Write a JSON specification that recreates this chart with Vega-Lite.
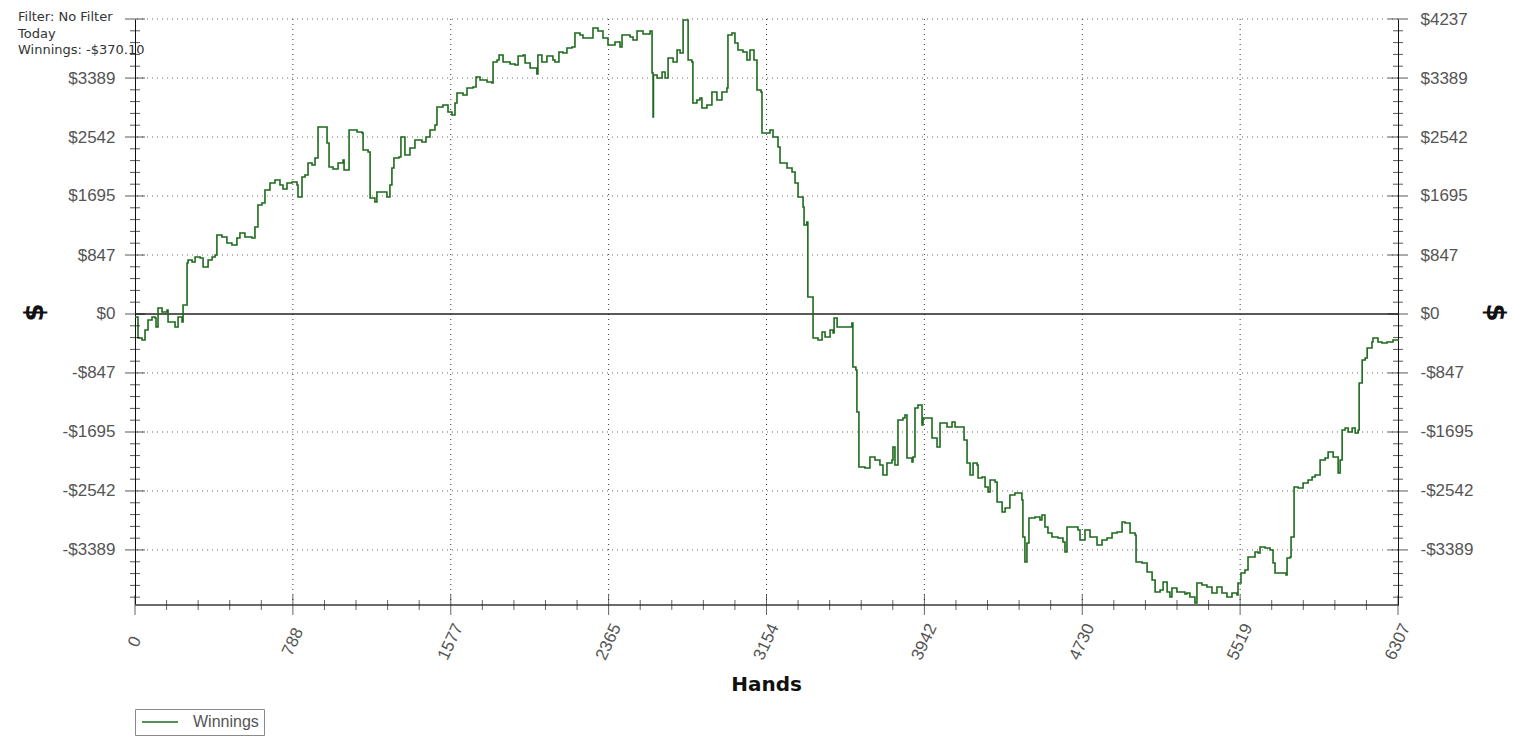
{
  "$schema": "https://vega.github.io/schema/vega-lite/v6.json",
  "width": 1263,
  "height": 586,
  "autosize": {"type": "none"},
  "padding": {"left": 135, "top": 19, "right": 134, "bottom": 147},
  "background": "white",
  "title": {
    "text": ["Filter: No Filter", "Today", "Winnings: -$370.10"],
    "anchor": "start",
    "frame": "group",
    "orient": "top",
    "font": "DejaVu Sans",
    "fontSize": 13,
    "fontWeight": "normal",
    "color": "#333333",
    "lineHeight": 16.5,
    "offset": 0,
    "dx": -117,
    "dy": 47
  },
  "datasets": {
    "win": [
      {"h":0,"w":-43},{"h":15,"w":-345},{"h":35,"w":-373},{"h":50,"w":-230},{"h":65,"w":-86},{"h":85,"w":-43},{"h":100,"w":-57},{"h":105,"w":-187},{"h":115,"w":86},{"h":135,"w":29},{"h":160,"w":57},{"h":165,"w":-115},{"h":200,"w":-187},{"h":215,"w":-43},{"h":235,"w":-115},{"h":240,"w":129},{"h":260,"w":733},{"h":265,"w":776},{"h":285,"w":747},{"h":300,"w":819},{"h":325,"w":804},{"h":340,"w":675},{"h":365,"w":776},{"h":385,"w":819},{"h":400,"w":847},{"h":409,"w":1135},{"h":434,"w":1106},{"h":459,"w":1020},{"h":484,"w":991},{"h":509,"w":1092},{"h":524,"w":1163},{"h":549,"w":1106},{"h":584,"w":1092},{"h":599,"w":1250},{"h":614,"w":1566},{"h":634,"w":1594},{"h":649,"w":1781},{"h":674,"w":1882},{"h":699,"w":1925},{"h":724,"w":1853},{"h":739,"w":1795},{"h":759,"w":1882},{"h":784,"w":1896},{"h":809,"w":1853},{"h":814,"w":1680},{"h":834,"w":1968},{"h":849,"w":1996},{"h":864,"w":2169},{"h":884,"w":2140},{"h":899,"w":2241},{"h":914,"w":2686},{"h":949,"w":2686},{"h":959,"w":2456},{"h":969,"w":2111},{"h":989,"w":2083},{"h":1014,"w":2169},{"h":1039,"w":2212},{"h":1044,"w":2068},{"h":1064,"w":2068},{"h":1069,"w":2643},{"h":1109,"w":2614},{"h":1134,"w":2600},{"h":1139,"w":2356},{"h":1164,"w":2327},{"h":1174,"w":1666},{"h":1198,"w":1609},{"h":1208,"w":1752},{"h":1258,"w":1680},{"h":1273,"w":1853},{"h":1283,"w":2097},{"h":1293,"w":2241},{"h":1318,"w":2255},{"h":1328,"w":2542},{"h":1343,"w":2542},{"h":1348,"w":2284},{"h":1373,"w":2384},{"h":1398,"w":2499},{"h":1433,"w":2470},{"h":1453,"w":2542},{"h":1473,"w":2643},{"h":1498,"w":2715},{"h":1508,"w":2973},{"h":1538,"w":3002},{"h":1563,"w":2901},{"h":1583,"w":2858},{"h":1598,"w":3031},{"h":1608,"w":3174},{"h":1638,"w":3145},{"h":1658,"w":3246},{"h":1688,"w":3260},{"h":1703,"w":3404},{"h":1723,"w":3361},{"h":1758,"w":3332},{"h":1783,"w":3318},{"h":1788,"w":3619},{"h":1808,"w":3648},{"h":1818,"w":3720},{"h":1838,"w":3619},{"h":1873,"w":3591},{"h":1898,"w":3576},{"h":1913,"w":3706},{"h":1938,"w":3720},{"h":1948,"w":3605},{"h":1973,"w":3533},{"h":2007,"w":3447},{"h":2012,"w":3720},{"h":2032,"w":3619},{"h":2057,"w":3706},{"h":2087,"w":3648},{"h":2097,"w":3619},{"h":2117,"w":3763},{"h":2137,"w":3749},{"h":2157,"w":3821},{"h":2182,"w":3835},{"h":2197,"w":4036},{"h":2222,"w":4007},{"h":2237,"w":3964},{"h":2262,"w":3964},{"h":2287,"w":4108},{"h":2312,"w":4065},{"h":2337,"w":3964},{"h":2362,"w":3864},{"h":2397,"w":3907},{"h":2422,"w":3835},{"h":2432,"w":4007},{"h":2472,"w":3979},{"h":2487,"w":3935},{"h":2507,"w":4065},{"h":2537,"w":4022},{"h":2572,"w":4065},{"h":2582,"w":3461},{"h":2587,"w":2829},{"h":2589,"w":3433},{"h":2607,"w":3390},{"h":2632,"w":3476},{"h":2647,"w":3390},{"h":2662,"w":3677},{"h":2687,"w":3619},{"h":2707,"w":3792},{"h":2722,"w":3749},{"h":2737,"w":4223},{"h":2757,"w":4223},{"h":2762,"w":3648},{"h":2781,"w":3619},{"h":2786,"w":3031},{"h":2806,"w":3074},{"h":2821,"w":3102},{"h":2831,"w":2959},{"h":2856,"w":3002},{"h":2881,"w":3189},{"h":2906,"w":3074},{"h":2931,"w":3189},{"h":2956,"w":3246},{"h":2961,"w":4007},{"h":2981,"w":4036},{"h":2996,"w":3892},{"h":3011,"w":3792},{"h":3036,"w":3763},{"h":3056,"w":3648},{"h":3071,"w":3792},{"h":3091,"w":3648},{"h":3106,"w":3217},{"h":3126,"w":3189},{"h":3131,"w":2600},{"h":3136,"w":2600},{"h":3171,"w":2643},{"h":3186,"w":2542},{"h":3211,"w":2399},{"h":3221,"w":2169},{"h":3256,"w":2097},{"h":3281,"w":2040},{"h":3296,"w":1882},{"h":3311,"w":1680},{"h":3336,"w":1537},{"h":3341,"w":1278},{"h":3355,"w":1321},{"h":3360,"w":244},{"h":3381,"w":244},{"h":3386,"w":-345},{"h":3411,"w":-373},{"h":3431,"w":-259},{"h":3446,"w":-330},{"h":3471,"w":-230},{"h":3486,"w":-273},{"h":3491,"w":-57},{"h":3506,"w":-187},{"h":3546,"w":-187},{"h":3580,"w":-129},{"h":3585,"w":-761},{"h":3600,"w":-804},{"h":3605,"w":-1408},{"h":3615,"w":-2198},{"h":3645,"w":-2212},{"h":3670,"w":-2054},{"h":3695,"w":-2097},{"h":3720,"w":-2169},{"h":3735,"w":-2312},{"h":3755,"w":-2140},{"h":3780,"w":-2097},{"h":3785,"w":-1910},{"h":3795,"w":-2169},{"h":3810,"w":-1522},{"h":3835,"w":-1494},{"h":3845,"w":-1451},{"h":3855,"w":-2068},{"h":3880,"w":-2126},{"h":3885,"w":-2054},{"h":3895,"w":-1350},{"h":3910,"w":-1307},{"h":3930,"w":-1594},{"h":3935,"w":-1494},{"h":3970,"w":-1494},{"h":3980,"w":-1781},{"h":4005,"w":-1910},{"h":4020,"w":-1566},{"h":4055,"w":-1623},{"h":4080,"w":-1551},{"h":4095,"w":-1623},{"h":4120,"w":-1623},{"h":4140,"w":-1810},{"h":4155,"w":-2140},{"h":4170,"w":-2312},{"h":4185,"w":-2140},{"h":4205,"w":-2169},{"h":4210,"w":-2356},{"h":4230,"w":-2341},{"h":4245,"w":-2485},{"h":4260,"w":-2557},{"h":4270,"w":-2384},{"h":4295,"w":-2413},{"h":4305,"w":-2700},{"h":4330,"w":-2844},{"h":4345,"w":-2786},{"h":4369,"w":-2600},{"h":4394,"w":-2571},{"h":4429,"w":-2672},{"h":4434,"w":-3203},{"h":4444,"w":-3562},{"h":4454,"w":-3289},{"h":4464,"w":-2930},{"h":4494,"w":-2916},{"h":4519,"w":-2959},{"h":4529,"w":-2887},{"h":4544,"w":-3059},{"h":4559,"w":-3145},{"h":4579,"w":-3203},{"h":4609,"w":-3217},{"h":4634,"w":-3275},{"h":4644,"w":-3418},{"h":4654,"w":-3059},{"h":4684,"w":-3059},{"h":4709,"w":-3102},{"h":4719,"w":-3246},{"h":4744,"w":-3102},{"h":4769,"w":-3203},{"h":4804,"w":-3318},{"h":4829,"w":-3246},{"h":4854,"w":-3217},{"h":4879,"w":-3145},{"h":4904,"w":-3131},{"h":4929,"w":-2988},{"h":4944,"w":-3002},{"h":4969,"w":-3145},{"h":4994,"w":-3174},{"h":4999,"w":-3562},{"h":5029,"w":-3576},{"h":5054,"w":-3706},{"h":5079,"w":-3821},{"h":5094,"w":-3993},{"h":5119,"w":-3964},{"h":5134,"w":-3849},{"h":5154,"w":-3993},{"h":5168,"w":-4065},{"h":5178,"w":-3935},{"h":5203,"w":-3993},{"h":5243,"w":-4022},{"h":5253,"w":-4007},{"h":5268,"w":-4065},{"h":5293,"w":-4151},{"h":5303,"w":-3864},{"h":5328,"w":-3892},{"h":5353,"w":-3921},{"h":5378,"w":-4007},{"h":5403,"w":-3921},{"h":5428,"w":-4007},{"h":5453,"w":-4065},{"h":5478,"w":-4007},{"h":5503,"w":-4036},{"h":5508,"w":-3864},{"h":5523,"w":-3720},{"h":5543,"w":-3677},{"h":5558,"w":-3490},{"h":5578,"w":-3490},{"h":5593,"w":-3418},{"h":5608,"w":-3433},{"h":5618,"w":-3347},{"h":5643,"w":-3361},{"h":5668,"w":-3390},{"h":5683,"w":-3576},{"h":5693,"w":-3720},{"h":5718,"w":-3720},{"h":5748,"w":-3749},{"h":5753,"w":-3505},{"h":5768,"w":-3490},{"h":5773,"w":-3203},{"h":5788,"w":-2485},{"h":5808,"w":-2499},{"h":5833,"w":-2427},{"h":5858,"w":-2384},{"h":5878,"w":-2341},{"h":5893,"w":-2312},{"h":5918,"w":-2097},{"h":5943,"w":-2068},{"h":5958,"w":-1982},{"h":5983,"w":-2054},{"h":6003,"w":-2054},{"h":6008,"w":-2284},{"h":6018,"w":-2097},{"h":6028,"w":-1666},{"h":6043,"w":-1637},{"h":6058,"w":-1695},{"h":6078,"w":-1637},{"h":6093,"w":-1709},{"h":6108,"w":-1666},{"h":6113,"w":-991},{"h":6128,"w":-661},{"h":6143,"w":-632},{"h":6153,"w":-488},{"h":6177,"w":-402},{"h":6182,"w":-345},{"h":6207,"w":-402},{"h":6227,"w":-417},{"h":6252,"w":-402},{"h":6282,"w":-373},{"h":6307,"w":-370}
    ],
    "ygrid": [
      {"v":-3389},{"v":-2542},{"v":-1695},{"v":-847},{"v":847},{"v":1695},{"v":2542},{"v":3389},{"v":4237}
    ],
    "zero": [{"v":0}],
    "xtitle": [{"v":3153.5,"t":"Hands"}],
    "xgrid": [
      {"v":788.375},{"v":1576.75},{"v":2365.125},{"v":3153.5},{"v":3941.875},{"v":4730.25},{"v":5518.625}
    ],
    "xlabels": [
      {"v":0},{"v":788.375},{"v":1576.75},{"v":2365.125},{"v":3153.5},{"v":3941.875},{"v":4730.25},{"v":5518.625},{"v":6307}
    ],
    "yticks": [
      {"v":-4067.5,"kind":"minor"},{"v":-3898,"kind":"minor"},{"v":-3728.6,"kind":"minor"},{"v":-3559.1,"kind":"minor"},{"v":-3389,"kind":"major"},
      {"v":-3220.1,"kind":"minor"},{"v":-3050.6,"kind":"minor"},{"v":-2881.2,"kind":"minor"},{"v":-2711.7,"kind":"minor"},{"v":-2542,"kind":"major"},
      {"v":-2372.7,"kind":"minor"},{"v":-2203.2,"kind":"minor"},{"v":-2033.8,"kind":"minor"},{"v":-1864.3,"kind":"minor"},{"v":-1695,"kind":"major"},
      {"v":-1525.3,"kind":"minor"},{"v":-1355.8,"kind":"minor"},{"v":-1186.4,"kind":"minor"},{"v":-1016.9,"kind":"minor"},{"v":-847,"kind":"major"},
      {"v":-677.9,"kind":"minor"},{"v":-508.4,"kind":"minor"},{"v":-339,"kind":"minor"},{"v":-169.5,"kind":"minor"},{"v":0,"kind":"major"},
      {"v":169.5,"kind":"minor"},{"v":339,"kind":"minor"},{"v":508.4,"kind":"minor"},{"v":677.9,"kind":"minor"},{"v":847,"kind":"major"},
      {"v":1016.9,"kind":"minor"},{"v":1186.4,"kind":"minor"},{"v":1355.8,"kind":"minor"},{"v":1525.3,"kind":"minor"},{"v":1695,"kind":"major"},
      {"v":1864.3,"kind":"minor"},{"v":2033.8,"kind":"minor"},{"v":2203.2,"kind":"minor"},{"v":2372.7,"kind":"minor"},{"v":2542,"kind":"major"},
      {"v":2711.7,"kind":"minor"},{"v":2881.2,"kind":"minor"},{"v":3050.6,"kind":"minor"},{"v":3220.1,"kind":"minor"},{"v":3389,"kind":"major"},
      {"v":3559.1,"kind":"minor"},{"v":3728.6,"kind":"minor"},{"v":3898,"kind":"minor"},{"v":4067.5,"kind":"minor"},{"v":4237,"kind":"major"}
    ],
    "xticks": [
      {"v":0,"kind":"major"},{"v":157.7,"kind":"minor"},{"v":315.4,"kind":"minor"},{"v":473,"kind":"minor"},{"v":630.7,"kind":"minor"},
      {"v":788.4,"kind":"major"},{"v":946.1,"kind":"minor"},{"v":1103.7,"kind":"minor"},{"v":1261.4,"kind":"minor"},{"v":1419.1,"kind":"minor"},
      {"v":1576.8,"kind":"major"},{"v":1734.4,"kind":"minor"},{"v":1892.1,"kind":"minor"},{"v":2049.8,"kind":"minor"},{"v":2207.5,"kind":"minor"},
      {"v":2365.1,"kind":"major"},{"v":2522.8,"kind":"minor"},{"v":2680.5,"kind":"minor"},{"v":2838.2,"kind":"minor"},{"v":2995.8,"kind":"minor"},
      {"v":3153.5,"kind":"major"},{"v":3311.2,"kind":"minor"},{"v":3468.9,"kind":"minor"},{"v":3626.5,"kind":"minor"},{"v":3784.2,"kind":"minor"},
      {"v":3941.9,"kind":"major"},{"v":4099.6,"kind":"minor"},{"v":4257.2,"kind":"minor"},{"v":4414.9,"kind":"minor"},{"v":4572.6,"kind":"minor"},
      {"v":4730.3,"kind":"major"},{"v":4887.9,"kind":"minor"},{"v":5045.6,"kind":"minor"},{"v":5203.3,"kind":"minor"},{"v":5361,"kind":"minor"},
      {"v":5518.6,"kind":"major"},{"v":5676.3,"kind":"minor"},{"v":5834,"kind":"minor"},{"v":5991.7,"kind":"minor"},{"v":6149.3,"kind":"minor"},
      {"v":6307,"kind":"major"}
    ]
  },
  "layer": [
    {
      "data": {"name": "xgrid"},
      "mark": {"type": "rule", "color": "#333333", "strokeWidth": 1, "strokeDash": [1, 4]},
      "encoding": {
        "x": {"field": "v", "type": "quantitative", "scale": {"domain": [0, 6307], "nice": false, "zero": false}, "axis": null}
      }
    },
    {
      "data": {"name": "ygrid"},
      "mark": {"type": "rule", "color": "#666666", "strokeWidth": 1, "strokeDash": [1, 4]},
      "encoding": {
        "y": {"field": "v", "type": "quantitative", "scale": {"domain": [-4180, 4237], "nice": false, "zero": false}, "axis": null}
      }
    },
    {
      "data": {"name": "zero"},
      "mark": {"type": "rule", "color": "#222222", "strokeWidth": 1.3},
      "encoding": {
        "y": {"field": "v", "type": "quantitative", "scale": {"domain": [-4180, 4237], "nice": false, "zero": false}, "axis": null}
      }
    },
    {
      "data": {"name": "zero"},
      "mark": {"type": "rule", "color": "#6a6a6a", "strokeWidth": 2},
      "encoding": {
        "y": {"value": "height"}
      }
    },
    {
      "data": {"name": "xlabels"},
      "mark": {"type": "text", "angle": 295, "align": "center", "baseline": "middle", "dx": -33.5, "dy": 15.6, "font": "Liberation Sans", "fontSize": 17, "color": "#555555"},
      "encoding": {
        "x": {"field": "v", "type": "quantitative", "scale": {"domain": [0, 6307], "nice": false, "zero": false}, "axis": null},
        "y": {"value": "height"},
        "text": {"field": "v", "type": "quantitative", "format": ".0f"}
      }
    },
    {
      "data": {"name": "xtitle"},
      "mark": {"type": "text", "align": "center", "baseline": "middle", "dy": 80, "font": "DejaVu Sans", "fontSize": 20, "fontWeight": "bold", "color": "#111111"},
      "encoding": {
        "x": {"field": "v", "type": "quantitative", "scale": {"domain": [0, 6307], "nice": false, "zero": false}, "axis": null},
        "y": {"value": "height"},
        "text": {"field": "t", "type": "nominal"}
      }
    },
    {
      "data": {"name": "win"},
      "mark": {"type": "line", "strokeWidth": 1.6, "interpolate": "step-after"},
      "encoding": {
        "x": {"field": "h", "type": "quantitative", "scale": {"domain": [0, 6307], "nice": false, "zero": false}, "axis": null},
        "y": {
          "field": "w", "type": "quantitative",
          "scale": {"domain": [-4180, 4237], "nice": false, "zero": false},
          "axis": {
            "orient": "left",
            "values": [-3389, -2542, -1695, -847, 0, 847, 1695, 2542, 3389],
            "labelExpr": "(datum.value < 0 ? '-$' : '$') + format(abs(datum.value), 'd')",
            "title": "$",
            "ticks": false,
            "grid": false,
            "domain": true,
            "domainColor": "#111111",
            "domainWidth": 1,
            "labelPadding": 20,
            "labelFont": "Liberation Sans",
            "labelFontSize": 17,
            "labelColor": "#555555",
            "labelOverlap": false,
            "labelFlush": false,
            "titleFont": "DejaVu Sans",
            "titleFontSize": 26,
            "titleFontWeight": "bold",
            "titleColor": "#111111",
            "titlePadding": 15
          }
        },
        "color": {
          "datum": "Winnings",
          "type": "nominal",
          "scale": {"range": ["#1d6a1d"]},
          "legend": {
            "orient": "none",
            "legendX": 0,
            "legendY": 690,
            "title": null,
            "strokeColor": "#8a8a8a",
            "fillColor": "white",
            "padding": 5,
            "symbolType": "M-1,0H5",
            "symbolSize": 144,
            "symbolStrokeWidth": 1.6,
            "labelFont": "Liberation Sans",
            "labelFontSize": 16,
            "labelColor": "#555555",
            "labelOffset": 37
          }
        }
      }
    },
    {
      "data": {"name": "yticks"},
      "mark": {"type": "tick", "orient": "horizontal", "thickness": 1, "color": "#111111"},
      "encoding": {
        "x": {"value": 0},
        "y": {"field": "v", "type": "quantitative", "scale": {"domain": [-4180, 4237], "nice": false, "zero": false}, "axis": null},
        "size": {"condition": {"test": "datum.kind === 'major'", "value": 20}, "value": 10}
      }
    },
    {
      "data": {"name": "yticks"},
      "mark": {"type": "tick", "orient": "horizontal", "thickness": 1, "color": "#111111"},
      "encoding": {
        "x": {"value": "width"},
        "y": {
          "field": "v", "type": "quantitative",
          "scale": {"domain": [-4180, 4237], "nice": false, "zero": false},
          "axis": {
            "orient": "right",
            "values": [-3389, -2542, -1695, -847, 0, 847, 1695, 2542, 3389, 4237],
            "labelExpr": "(datum.value < 0 ? '-$' : '$') + format(abs(datum.value), 'd')",
            "title": "$",
            "ticks": false,
            "grid": false,
            "domain": true,
            "domainColor": "#111111",
            "domainWidth": 1,
            "labelPadding": 22,
            "labelFont": "Liberation Sans",
            "labelFontSize": 17,
            "labelColor": "#555555",
            "labelOverlap": false,
            "labelFlush": false,
            "titleFont": "DejaVu Sans",
            "titleFontSize": 26,
            "titleFontWeight": "bold",
            "titleColor": "#111111",
            "titlePadding": 9
          }
        },
        "size": {"condition": {"test": "datum.kind === 'major'", "value": 20}, "value": 10}
      }
    },
    {
      "data": {"name": "xticks"},
      "mark": {"type": "tick", "orient": "vertical", "thickness": 1, "color": "#222222"},
      "encoding": {
        "x": {"field": "v", "type": "quantitative", "scale": {"domain": [0, 6307], "nice": false, "zero": false}, "axis": null},
        "y": {"value": "height"},
        "size": {"condition": {"test": "datum.kind === 'major'", "value": 20}, "value": 10}
      }
    }
  ],
  "resolve": {"axis": {"y": "independent"}},
  "config": {
    "view": {"stroke": null},
    "font": "Liberation Sans"
  }
}
